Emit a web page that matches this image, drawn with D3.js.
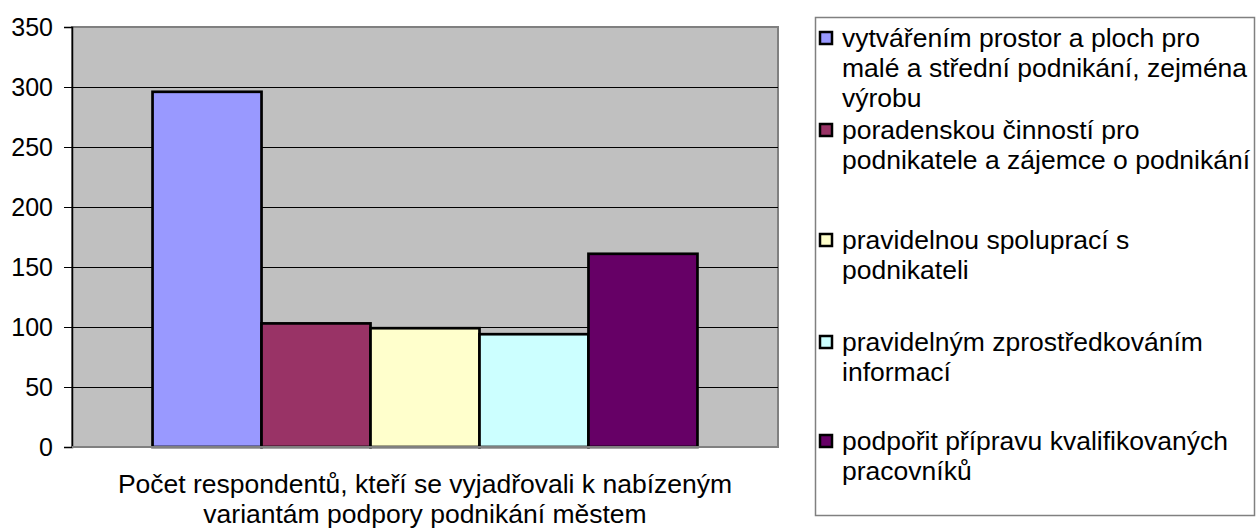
<!DOCTYPE html>
<html>
<head>
<meta charset="utf-8">
<script src="https://cdn.jsdelivr.net/npm/d3@7"></script>
<style>
  body { margin: 0; background: #fff; }
  svg text { font-family: "Liberation Sans", Arial, sans-serif; fill: #000; }
</style>
</head>
<body>
<svg id="chart" width="1256" height="529"></svg>
<script>
const categories = [
  "vytvářením prostor a ploch pro malé a střední podnikání, zejména výrobu",
  "poradenskou činností pro podnikatele a zájemce o podnikání",
  "pravidelnou spoluprací s podnikateli",
  "pravidelným zprostředkováním informací",
  "podpořit přípravu kvalifikovaných pracovníků",
];
const values = [296, 103, 99, 94, 161];
const colors = ["#9999FF", "#993366", "#FFFFCC", "#CCFFFF", "#660066"];
const yTicks = [0, 50, 100, 150, 200, 250, 300, 350];
const xTitle = [
  "Počet respondentů, kteří se vyjadřovali k nabízeným",
  "variantám podpory podnikání městem",
];
// legend text as it wraps in the picture
const legendLines = [
  ["vytvářením prostor a ploch pro", "malé a střední podnikání, zejména", "výrobu"],
  ["poradenskou činností pro", "podnikatele a zájemce o podnikání"],
  ["pravidelnou spoluprací s", "podnikateli"],
  ["pravidelným zprostředkováním", "informací"],
  ["podpořit přípravu kvalifikovaných", "pracovníků"],
];

const svg = d3.select("#chart");
const plot = { left: 72, top: 27, right: 778, bottom: 447 };
const fontSize = 26.5;
const tickFontSize = 25;

const x = d3
  .scaleBand()
  .domain(categories)
  .range([plot.left, plot.right])
  .paddingInner(0)
  .paddingOuter(0.739);
const y = d3.scaleLinear().domain([0, 350]).range([plot.bottom, plot.top]);

// plot background
svg
  .append("rect")
  .attr("x", plot.left)
  .attr("y", plot.top)
  .attr("width", plot.right - plot.left)
  .attr("height", plot.bottom - plot.top)
  .attr("fill", "#C0C0C0")
  .attr("stroke", "#808080")
  .attr("stroke-width", 2);

// gridlines
svg
  .append("g")
  .selectAll("line")
  .data(yTicks.filter((d) => d > 0 && d < 350))
  .join("line")
  .attr("x1", plot.left)
  .attr("x2", plot.right)
  .attr("y1", (d) => Math.round(y(d)) + 0.5)
  .attr("y2", (d) => Math.round(y(d)) + 0.5)
  .attr("stroke", "#000")
  .attr("stroke-width", 1);

// bars
svg
  .append("g")
  .selectAll("rect")
  .data(categories)
  .join("rect")
  .attr("x", (d) => x(d))
  .attr("y", (d, i) => y(values[i]))
  .attr("width", x.bandwidth())
  .attr("height", (d, i) => y(0) - y(values[i]))
  .attr("fill", (d, i) => colors[i])
  .attr("stroke", "#000")
  .attr("stroke-width", 2.7);

// y axis
const yAxis = svg
  .append("g")
  .attr("transform", `translate(${plot.left},0)`)
  .call(d3.axisLeft(y).tickValues(yTicks).tickSize(8).tickPadding(11));
yAxis.select(".domain").attr("stroke", "#000").attr("stroke-width", 1.5);
yAxis.selectAll(".tick line").attr("stroke", "#000");
yAxis
  .selectAll(".tick text")
  .attr("font-size", tickFontSize)
  .attr("font-family", '"Liberation Sans", Arial, sans-serif')
  .attr("fill", "#000");

// bottom axis line
svg
  .append("line")
  .attr("x1", plot.left)
  .attr("x2", plot.right)
  .attr("y1", plot.bottom)
  .attr("y2", plot.bottom)
  .attr("stroke", "#808080")
  .attr("stroke-width", 2);

// x title
svg
  .append("g")
  .selectAll("text")
  .data(xTitle)
  .join("text")
  .attr("x", (plot.left + plot.right) / 2)
  .attr("y", (d, i) => 484 + i * 30)
  .attr("text-anchor", "middle")
  .attr("dominant-baseline", "central")
  .attr("font-size", fontSize)
  .text((d) => d);

// legend
const legendTop = [38, 130, 240, 342, 441];
const legend = svg.append("g");
legend
  .append("rect")
  .attr("x", 815.5)
  .attr("y", 17.5)
  .attr("width", 439)
  .attr("height", 498)
  .attr("fill", "#fff")
  .attr("stroke", "#808080")
  .attr("stroke-width", 1.5);
const items = legend
  .selectAll("g.item")
  .data(legendLines)
  .join("g")
  .attr("class", "item")
  .attr("transform", (d, i) => `translate(0,${legendTop[i]})`);
items
  .append("rect")
  .attr("x", 820)
  .attr("y", -6)
  .attr("width", 12)
  .attr("height", 12)
  .attr("fill", (d, i) => colors[i])
  .attr("stroke", "#000")
  .attr("stroke-width", 2.5);
items
  .selectAll("text")
  .data((d) => d)
  .join("text")
  .attr("x", 842)
  .attr("y", (d, j) => j * 30)
  .attr("dominant-baseline", "central")
  .attr("font-size", fontSize)
  .text((d) => d);
</script>
</body>
</html>
